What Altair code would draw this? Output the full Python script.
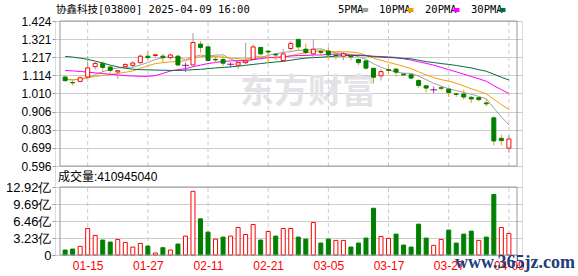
import altair as alt
import pandas as pd

dates = ['01-10','01-13','01-14','01-15','01-16','01-17','01-20','01-21','01-22','01-23',
         '01-24','01-27','01-28','02-03','02-04','02-05','02-06','02-07','02-10','02-11',
         '02-12','02-13','02-14','02-17','02-18','02-19','02-20','02-21','02-24','02-25',
         '02-26','02-27','02-28','03-03','03-04','03-05','03-06','03-07','03-10','03-11',
         '03-12','03-13','03-14','03-17','03-18','03-19','03-20','03-21','03-24','03-25',
         '03-26','03-27','03-28','03-31','04-01','04-02','04-03','04-07','04-08','04-09']

opens = [1.104,1.073,1.079,1.104,1.163,1.182,1.161,1.133,1.163,1.171,
         1.186,1.223,1.227,1.223,1.215,1.223,1.171,1.173,1.292,1.276,
         1.205,1.204,1.177,1.171,1.186,1.205,1.273,1.252,1.234,1.198,
         1.267,1.319,1.263,1.236,1.249,1.252,1.230,1.223,1.225,1.204,
         1.196,1.154,1.111,1.146,1.149,1.121,1.117,1.084,1.054,1.031,
         1.043,1.035,1.008,1.007,0.988,0.986,0.956,0.871,0.754,0.698]
highs = [1.113,1.085,1.108,1.223,1.194,1.194,1.171,1.146,1.184,1.194,
         1.234,1.251,1.236,1.236,1.238,1.232,1.186,1.355,1.309,1.282,
         1.219,1.223,1.188,1.196,1.300,1.292,1.276,1.254,1.242,1.265,
         1.309,1.321,1.296,1.319,1.263,1.274,1.238,1.248,1.238,1.209,
         1.202,1.156,1.149,1.173,1.156,1.126,1.122,1.092,1.056,1.050,
         1.054,1.041,1.016,1.031,0.997,0.990,0.979,0.880,0.776,0.772]
lows = [1.079,1.056,1.075,1.094,1.146,1.133,1.123,1.094,1.152,1.156,
        1.181,1.200,1.215,1.190,1.202,1.165,1.133,1.171,1.242,1.194,
        1.184,1.167,1.158,1.150,1.178,1.200,1.232,1.183,1.200,1.192,
        1.250,1.255,1.228,1.209,1.228,1.209,1.204,1.200,1.200,1.171,
        1.145,1.069,1.084,1.120,1.107,1.111,1.094,1.041,1.016,1.013,
        1.028,0.990,0.990,0.975,0.956,0.965,0.937,0.714,0.714,0.672]
closes = [1.083,1.071,1.100,1.156,1.182,1.159,1.142,1.140,1.175,1.184,
          1.223,1.215,1.231,1.215,1.230,1.173,1.171,1.301,1.273,1.198,
          1.202,1.183,1.177,1.186,1.196,1.276,1.236,1.247,1.230,1.236,
          1.296,1.276,1.244,1.263,1.245,1.230,1.227,1.237,1.219,1.186,
          1.155,1.103,1.135,1.142,1.132,1.116,1.098,1.056,1.041,1.031,
          1.040,1.016,1.005,0.990,0.979,0.975,0.951,0.739,0.741,0.750]

volumes = [0.95,1.13,1.64,5.04,3.72,2.84,2.46,2.96,2.39,1.51,
           2.20,1.70,0.38,1.39,0.95,2.08,3.59,12.10,6.87,4.35,
           3.02,3.40,3.59,5.23,3.90,5.80,2.84,4.47,3.59,5.04,
           5.04,3.40,3.02,6.17,2.27,3.02,2.77,2.77,1.51,2.27,
           3.21,8.88,3.53,3.15,3.97,1.89,1.51,5.86,3.21,1.83,
           2.96,4.73,2.27,3.97,4.54,2.77,3.40,11.50,5.23,4.11]
vol_kind = ['down','down','up','up','up','down','down','up','up','up',
            'up','down','upf','down','up','down','up','up','down','down',
            'up','down','up','up','up','up','down','up','down','up',
            'up','down','down','up','down','down','up','up','down','down',
            'down','down','up','up','down','down','down','down','down','up',
            'up','down','down','down','down','up','down','down','up','up']

ma5 = [1.092,1.088,1.090,1.100,1.118,1.134,1.148,1.156,1.160,1.160,
       1.173,1.187,1.205,1.213,1.222,1.212,1.204,1.218,1.230,1.223,
       1.229,1.231,1.207,1.189,1.189,1.204,1.214,1.228,1.237,1.245,
       1.249,1.257,1.256,1.263,1.265,1.252,1.242,1.240,1.232,1.220,
       1.205,1.180,1.160,1.144,1.133,1.126,1.125,1.109,1.089,1.068,
       1.053,1.037,1.027,1.016,1.006,0.993,0.980,0.927,0.877,0.831]
ma10 = [1.090,1.088,1.093,1.100,1.107,1.113,1.118,1.124,1.131,1.139,
        1.153,1.168,1.181,1.186,1.191,1.193,1.196,1.212,1.221,1.223,
        1.221,1.218,1.212,1.209,1.206,1.216,1.223,1.217,1.213,1.217,
        1.226,1.236,1.242,1.250,1.255,1.250,1.249,1.248,1.247,1.242,
        1.228,1.211,1.200,1.188,1.177,1.165,1.152,1.134,1.116,1.101,
        1.089,1.081,1.068,1.053,1.037,1.023,1.008,0.977,0.947,0.919]
ma20 = [1.142,1.139,1.136,1.132,1.128,1.124,1.120,1.116,1.112,1.110,
        1.108,1.108,1.112,1.125,1.138,1.146,1.152,1.163,1.172,1.181,
        1.187,1.193,1.196,1.198,1.199,1.204,1.209,1.215,1.217,1.220,
        1.224,1.227,1.227,1.230,1.230,1.233,1.236,1.233,1.230,1.230,
        1.227,1.223,1.221,1.219,1.216,1.208,1.201,1.191,1.182,1.172,
        1.159,1.146,1.134,1.120,1.107,1.094,1.080,1.055,1.032,1.010]
ma30 = [1.222,1.218,1.212,1.205,1.195,1.184,1.172,1.162,1.154,1.149,
        1.146,1.145,1.144,1.143,1.142,1.142,1.143,1.146,1.148,1.152,
        1.156,1.159,1.162,1.166,1.171,1.176,1.181,1.186,1.190,1.193,
        1.200,1.207,1.212,1.215,1.217,1.220,1.223,1.226,1.227,1.227,
        1.225,1.221,1.218,1.216,1.213,1.211,1.208,1.200,1.192,1.187,
        1.181,1.176,1.170,1.163,1.156,1.146,1.137,1.120,1.103,1.087]

ma_names = ['5PMA', '10PMA', '20PMA', '30PMA']
ma_colors = ['#a0a0a0', '#f2a000', '#ff00ff', '#00703a']
price_ticks = [0.596, 0.699, 0.803, 0.906, 1.010, 1.114, 1.217, 1.321, 1.424]
vol_ticks = [0, 3.23, 6.46, 9.69, 12.92]
label_idx = [3, 11, 19, 27, 35, 43, 51, 59]
title_text = '协鑫科技[03800] 2025-04-09 16:00'
vol_text = '成交量:410945040'

n = len(dates)
idx = list(range(n))
kind = ['up' if c > o else ('down' if c < o else 'flat') for o, c in zip(opens, closes)]
df = pd.DataFrame({'idx': idx, 'date': dates, 'open': opens, 'high': highs, 'low': lows,
                   'close': closes, 'vol': volumes, 'vkind': vol_kind, 'kind': kind,
                   'zero': [0.0] * n})
ma_long = pd.DataFrame({
    'idx': idx * 4,
    'value': ma5 + ma10 + ma20 + ma30,
    'series': sum([[m] * n for m in ma_names], []),
})

XMIN, XMAX = -0.68, 60.08
PMIN, PMAX = price_ticks[0], price_ticks[-1]
VMIN, VMAX = vol_ticks[0], vol_ticks[-1]

label_array = '[' + ','.join("'%s'" % d for d in dates) + ']'
x_scale = alt.Scale(domain=[XMIN, XMAX], nice=False, zero=False)
x_axis = alt.Axis(values=label_idx, labelExpr=label_array + '[datum.value]', grid=False,
                  ticks=False, domain=False, labelColor='#ff0000', labelFontSize=12,
                  labelFont='Liberation Sans', labelPadding=5, title=None)

p_scale = alt.Scale(domain=[PMIN, PMAX], range=[145, 0], nice=False, zero=False)
p_axis = alt.Axis(values=price_ticks, format='.3f', orient='left', grid=True,
                  gridColor='#cccccc', domain=False, tickSize=3, tickColor='#999999',
                  labelFont='Liberation Sans', labelFontSize=12, labelColor='#000000',
                  labelPadding=1, title=None)
v_scale = alt.Scale(domain=[VMIN, VMAX], range=[234, 166], nice=False, zero=False)
v_axis = alt.Axis(values=vol_ticks, orient='left', grid=True, gridColor='#cccccc',
                  domain=False, tickSize=3, tickColor='#999999',
                  labelExpr="datum.value == 0 ? '0' : format(datum.value, '.2f') + '亿'",
                  labelFont='Liberation Sans', labelFontSize=13, labelColor='#000000',
                  labelPadding=1, title=None)


def X(f='idx'):
    return alt.X(f + ':Q', scale=x_scale, axis=x_axis)


def YP(f):
    return alt.Y(f + ':Q', scale=p_scale, axis=p_axis)


def YV(f):
    return alt.Y(f + ':Q', scale=v_scale, axis=v_axis)


vlines = pd.DataFrame({'idx': label_idx, 'plo': [PMIN] * len(label_idx),
                       'phi': [PMAX] * len(label_idx), 'vlo': [VMIN] * len(label_idx),
                       'vhi': [VMAX] * len(label_idx)})
border = pd.DataFrame({'x0': [XMIN], 'x1': [XMAX], 'plo': [PMIN], 'phi': [PMAX],
                       'vlo': [VMIN], 'vhi': [VMAX]})

kind_dom = ['up', 'down', 'flat']
stroke_scale = alt.Scale(domain=kind_dom, range=['#ff0000', '#008000', '#000000'])
fill_scale = alt.Scale(domain=kind_dom, range=['#ffffff', '#008000', '#000000'])

base = alt.Chart(df)

p_vlines = alt.Chart(vlines).mark_rule(color='#cccccc', strokeDash=[4, 3]).encode(
    x=X(), y=YP('plo'), y2='phi:Q')
wicks = base.mark_rule(strokeWidth=1).encode(
    x=X(), y=YP('low'), y2='high:Q',
    color=alt.Color('kind:N', scale=stroke_scale, legend=None))
bodies = base.transform_filter("datum.kind != 'flat'").mark_bar(size=4, strokeWidth=1).encode(
    x=X(), y=YP('open'), y2='close:Q',
    fill=alt.Fill('kind:N', scale=fill_scale, legend=None),
    stroke=alt.Stroke('kind:N', scale=stroke_scale, legend=None))
flats = base.transform_filter("datum.kind == 'flat'").mark_tick(
    orient='horizontal', size=7, thickness=1, color='#000000').encode(x=X(), y=YP('close'))
ma_lines = alt.Chart(ma_long).mark_line(strokeWidth=1).encode(
    x=X(), y=YP('value'),
    color=alt.Color('series:N', scale=alt.Scale(domain=ma_names, range=ma_colors), legend=None))
p_border = alt.Chart(border).mark_rect(fillOpacity=0, stroke='#999999', strokeWidth=1).encode(
    x=X('x0'), x2='x1:Q', y=YP('plo'), y2='phi:Q')

one = pd.DataFrame({'t': [title_text]})
title_mark = alt.Chart(one).mark_text(align='left', baseline='middle', fontSize=10.5,
                                      font='DejaVu Sans Mono, Noto Sans CJK SC',
                                      color='#000000').encode(
    text='t:N', x=alt.value(1), y=alt.value(-11))

leg = pd.DataFrame({'name': ma_names, 'color': ma_colors,
                    'tx': [283, 324, 370, 416]})
leg_text = alt.Chart(leg).mark_text(align='left', baseline='middle', fontSize=10.5,
                                    font='DejaVu Sans Mono', color='#000000').encode(
    text='name:N', x=alt.X('tx:Q', scale=None), y=alt.value(-11))
leg_box = alt.Chart(leg).transform_calculate(bx='datum.tx + 4.3 * length(datum.name) + 10').mark_rect(
    width=6, height=4).encode(
    x=alt.X('bx:Q', scale=None), y=alt.value(-11),
    color=alt.Color('color:N', scale=None))

wm = pd.DataFrame({'t': ['东方财富']})
watermark = alt.Chart(wm).mark_text(align='center', baseline='middle', fontSize=34,
                                    fontWeight='bold', font='Noto Sans CJK SC',
                                    color='#e3e3e7').encode(
    text='t:N', x=alt.value(253), y=alt.value(72))

price = alt.layer(watermark, p_vlines, ma_lines, wicks, bodies, flats, p_border,
                  title_mark, leg_text, leg_box)

v_vlines = alt.Chart(vlines).mark_rule(color='#cccccc', strokeDash=[4, 3]).encode(
    x=X(), y=YV('vlo'), y2='vhi:Q')
vstroke = alt.Scale(domain=['up', 'down', 'upf'], range=['#ff0000', '#008000', '#ff0000'])
vfill = alt.Scale(domain=['up', 'down', 'upf'], range=['#ffffff', '#008000', '#ff0000'])
vbars = base.mark_bar(size=4, strokeWidth=1).encode(
    x=X(), y=YV('zero'), y2='vol:Q',
    fill=alt.Fill('vkind:N', scale=vfill, legend=None),
    stroke=alt.Stroke('vkind:N', scale=vstroke, legend=None))
v_border = alt.Chart(border).mark_rect(fillOpacity=0, stroke='#999999', strokeWidth=1).encode(
    x=X('x0'), x2='x1:Q', y=YV('vlo'), y2='vhi:Q')
vt = pd.DataFrame({'t': [vol_text]})
vol_title = alt.Chart(vt).mark_text(align='left', baseline='middle', fontSize=12,
                                    font='Liberation Sans, Noto Sans CJK SC',
                                    color='#000000').encode(
    text='t:N', x=alt.value(3), y=alt.value(156))
site = pd.DataFrame({'t': ['www.365jz.com']})
site_mark = alt.Chart(site).mark_text(align='left', baseline='middle', fontSize=18,
                                      fontWeight='bold', font='Liberation Serif',
                                      color='#213d78').encode(
    text='t:N', x=alt.value(400), y=alt.value(242))

volume = alt.layer(v_vlines, vbars, v_border, vol_title, site_mark)

chart = alt.layer(price, volume).resolve_scale(y='independent').properties(
    width=467, height=234,
    padding={'left': 55, 'top': 21, 'right': 56, 'bottom': 21},
    autosize=alt.AutoSizeParams(type='none'),
).configure_view(stroke=None).configure(background='#ffffff')

chart.save('out.html', embed_options={'renderer': 'svg', 'actions': False})
